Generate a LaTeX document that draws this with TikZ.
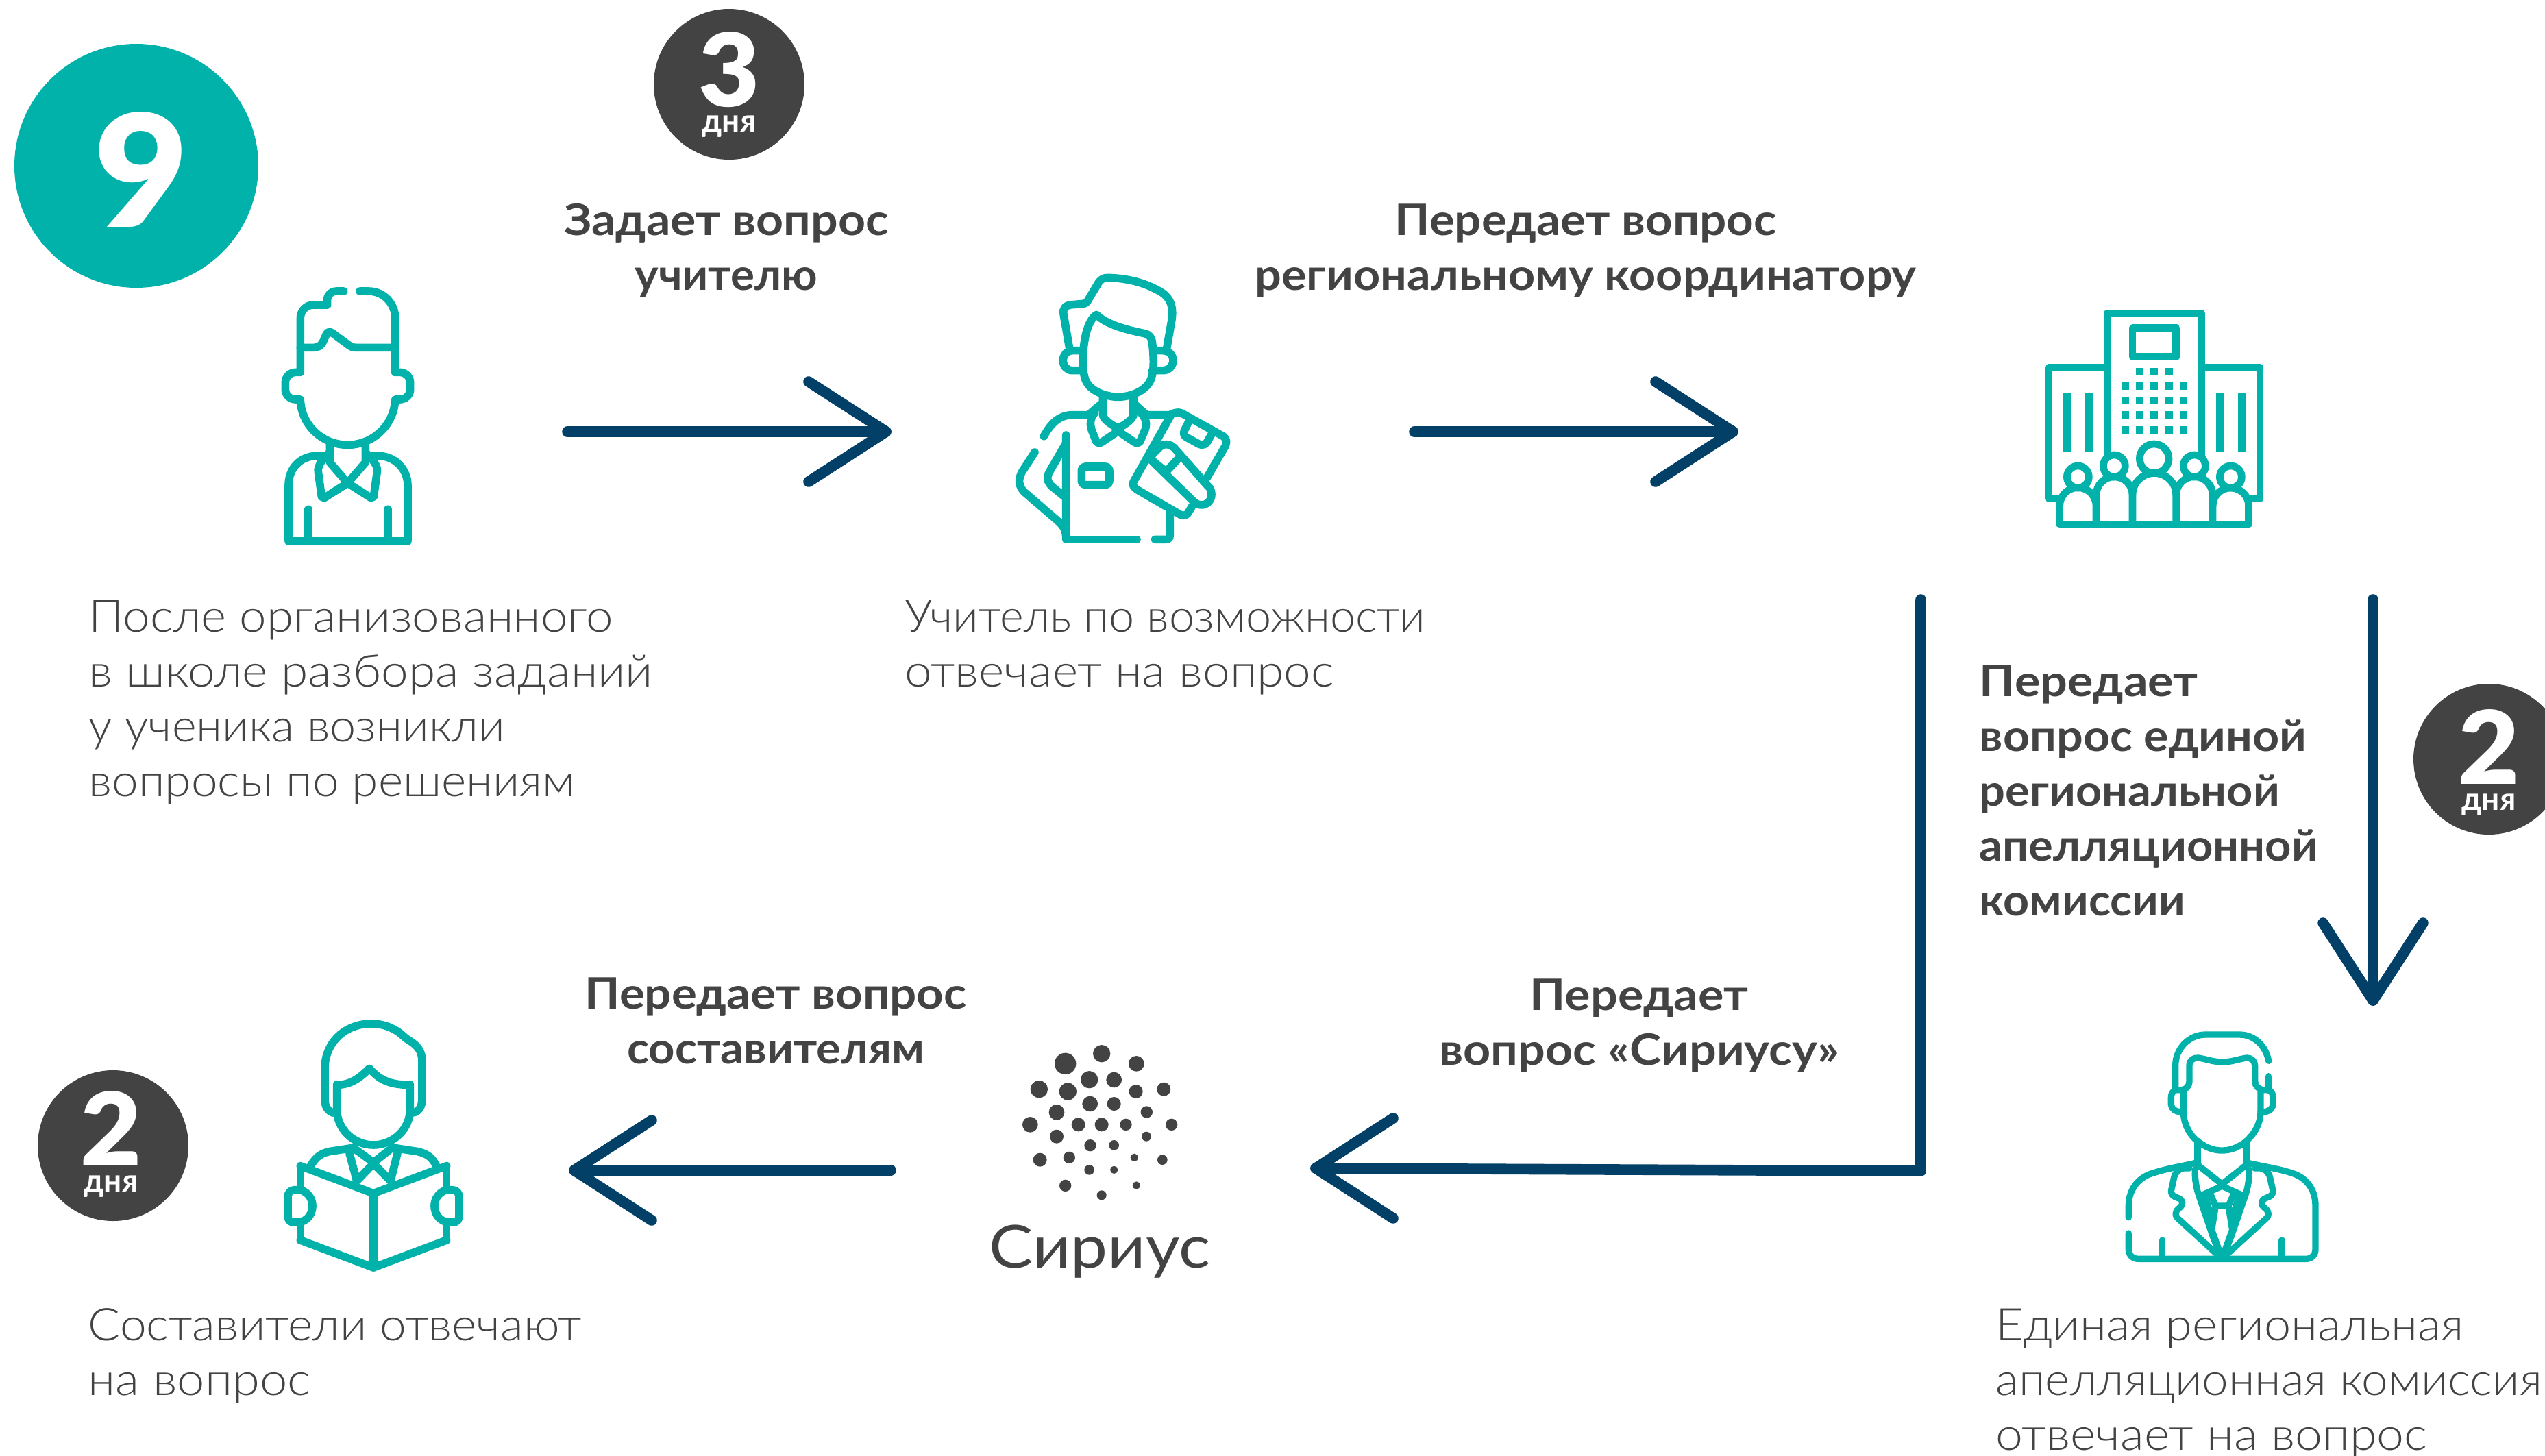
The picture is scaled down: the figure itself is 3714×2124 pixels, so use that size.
\documentclass[tikz,border=0pt]{standalone}
\usepackage{fontspec}
\setmainfont{Lato}
\newfontfamily\lightf{Lato Light}[FakeStretch=1.07]
\newfontfamily\semif{Lato}[BoldFont={Lato Bold},FakeStretch=1.08]
\newfontfamily\plainf{Lato}
\newfontfamily\heavyf{Lato Black}[FakeStretch=1.04]
\definecolor{teal9}{HTML}{00B2A9}
\definecolor{navy9}{HTML}{024068}
\definecolor{ink9}{HTML}{434343}
\newcommand{\fl}{\rule{0pt}{20pt}}
\newcommand{\sx}[2]{\scalebox{#1}[1]{#2}}
\tikzset{
  zoomed/.style={x=0.083333pt,y=-0.083333pt},
  iconline/.style={draw=teal9,line width=#1,line cap=round,line join=round,fill=none},
  iconline/.default=2.9pt,
  flow/.style={draw=navy9,line width=3.9pt,line cap=round,line join=round},
  bodytext/.style={anchor=north west,inner sep=0pt,align=left,text=ink9,font=\lightf\fontsize{16.4}{20}\selectfont},
  boldtext/.style={anchor=north,inner sep=0pt,align=center,text=ink9,font=\semif\bfseries\fontsize{15.8}{20}\selectfont},
  boldleft/.style={anchor=north west,inner sep=0pt,align=left,text=ink9,font=\semif\bfseries\fontsize{15.8}{20}\selectfont},
  badge/.style={circle,fill=ink9,minimum size=55pt,inner sep=0pt},
  digit/.style={anchor=base,inner sep=0pt,text=white,font=\heavyf\fontsize{37}{37}\selectfont},
  days/.style={anchor=base,inner sep=0pt,text=white,font=\plainf\bfseries\fontsize{11.5}{12}\selectfont},
  dot/.style={fill=ink9}
}
\begin{document}
\begin{tikzpicture}[x=0.25pt,y=-0.25pt]
\useasboundingbox (0,0) rectangle (3714,2124);
\clip (0,0) rectangle (3714,2124);
\fill[white] (0,0) rectangle (3714,2124);

% step number
\node[circle,fill=teal9,minimum size=89pt,inner sep=0pt] (stepnum) at (199,242) {};
\node[anchor=base,inner sep=0pt,text=white,font=\heavyf\fontsize{57}{57}\selectfont] (stepdigit) at (206,331) {9};

% badges
\node[badge] (badgeA) at (1064,123) {};
\node[digit] (badgeAd) at (1064,155) {3};
\node[days] (badgeAt) at (1064,192) {дня};
\node[badge] (badgeB) at (3632,1108) {};
\node[digit] (badgeBd) at (3632,1144) {2};
\node[days] (badgeBt) at (3632,1182) {дня};
\node[badge] (badgeC) at (165,1672) {};
\node[digit] (badgeCd) at (162,1701) {2};
\node[days] (badgeCt) at (162,1739) {дня};

% connectors
\coordinate (a1s) at (828,630); \coordinate (a1e) at (1293,630);
\coordinate (a2s) at (2064,630); \coordinate (a2e) at (2529,630);
\coordinate (a3s) at (3463,875); \coordinate (a3e) at (3463,1460);
\coordinate (a4s) at (2803,875); \coordinate (a4c) at (2803,1709); \coordinate (a4e) at (1920,1705);
\coordinate (a5s) at (1300,1708); \coordinate (a5e) at (838,1708);
\draw[flow] (a1s) -- (a1e);
\draw[flow] ([shift={(-113,-73)}]a1e) -- (a1e) -- ([shift={(-113,73)}]a1e);
\draw[flow] (a2s) -- (a2e);
\draw[flow] ([shift={(-113,-73)}]a2e) -- (a2e) -- ([shift={(-113,73)}]a2e);
\draw[flow] (a3s) -- (a3e);
\draw[flow] ([shift={(-73,-113)}]a3e) -- (a3e) -- ([shift={(73,-113)}]a3e);
\draw[flow] (a4s) -- (a4c) -- (a4e);
\draw[flow] ([shift={(113,-73)}]a4e) -- (a4e) -- ([shift={(113,73)}]a4e);
\draw[flow] (a5s) -- (a5e);
\draw[flow] ([shift={(113,-73)}]a5e) -- (a5e) -- ([shift={(113,73)}]a5e);

% texts
\node[bodytext] (t1) at (129,842) {\fl \sx{1.01}{После организованного}\\\sx{1.014}{в школе разбора заданий}\\\sx{.973}{у ученика возникли}\\\sx{.988}{вопросы по решениям}};
\node[bodytext] (t2) at (1320,842) {\fl \sx{.947}{Учитель по возможности}\\\sx{1.015}{отвечает на вопрос}};
\node[bodytext] (t3) at (128,1876) {\fl \sx{.99}{Составители отвечают}\\\sx{1.03}{на вопрос}};
\node[bodytext] (t4) at (2912,1876) {\fl Единая региональная\\\sx{.988}{апелляционная комиссия}\\\sx{1.02}{отвечает на вопрос}};
\node[boldtext] (l1) at (1060,263) {\fl \sx{1.023}{Задает вопрос}\\\sx{.96}{учителю}};
\node[boldtext] (l2) at (2314,263) {\fl \sx{1.012}{Передает вопрос}\\региональному координатору};
\node[boldleft] (l3) at (2888,936) {\fl \sx{1.027}{Передает}\\вопрос единой\\\sx{.977}{региональной}\\\sx{.98}{апелляционной}\\\sx{.972}{комиссии}};
\node[boldtext] (l4) at (2392,1394) {\fl \sx{1.027}{Передает}\\\sx{1.026}{вопрос «Сириусу»}};
\node[boldtext] (l5) at (1132,1392) {\fl \sx{1.012}{Передает вопрос}\\\sx{.98}{составителям}};

% student icon
\begin{scope}[shift={(380,380)},zoomed]
\draw[iconline] (365,135) -- (335,135) .. controls (310,135) and (293,150) .. (293,172) -- (293,195) -- (232,195) .. controls (200,195) and (175,222) .. (175,252) -- (175,490) -- (155,490) .. controls (130,490) and (109,510) .. (109,535) -- (109,565) .. controls (109,590) and (130,609) .. (155,609) -- (175,609) .. controls (178,720) and (270,808) .. (382,808) .. controls (494,808) and (586,720) .. (590,609) -- (610,609) .. controls (635,609) and (656,590) .. (656,565) -- (656,535) .. controls (656,510) and (635,490) .. (610,490) -- (590,490) -- (590,252) .. controls (590,190) and (540,135) .. (475,135) -- (435,135);
\draw[iconline] (175,382) -- (235,382) .. controls (255,382) and (268,370) .. (275,355) -- (288,325) .. controls (293,313) and (305,310) .. (315,318) -- (385,370) .. controls (395,378) and (405,382) .. (418,382) -- (590,382);
\draw[iconline] (304,800) -- (304,885) -- (382,975) -- (280,1040) -- (268,1035) -- (253,925) .. controls (250,905) and (265,880) .. (285,860) -- (304,840);
\draw[iconline] (460,800) -- (460,885) -- (382,975) -- (484,1040) -- (496,1035) -- (511,925) .. controls (514,905) and (499,880) .. (479,860) -- (460,840);
\draw[iconline] (285,856) -- (250,856) .. controls (170,856) and (123,915) .. (123,985) -- (123,1230) -- (645,1230) -- (645,985) .. controls (645,915) and (590,856) .. (515,856) -- (480,856);
\draw[iconline] (210,1090) -- (210,1230);
\draw[iconline] (558,1090) -- (558,1230);
\end{scope}

% teacher icon
\begin{scope}[shift={(1460,380)},zoomed]
\draw[iconline] (302,385) -- (276,235) .. controls (272,210) and (285,198) .. (305,195) -- (360,190) .. controls (370,190) and (375,188) .. (380,180) -- (425,105) .. controls (435,85) and (450,76) .. (470,76) .. controls (560,78) and (640,100) .. (705,140) .. controls (745,165) and (758,205) .. (750,260) -- (728,385);
\draw[iconline] (361,450) .. controls (361,350) and (380,265) .. (420,238) .. controls (470,285) and (560,305) .. (630,320) .. controls (655,325) and (663,340) .. (665,365) .. controls (672,430) and (672,480) .. (662,510) .. controls (648,570) and (570,598) .. (515,598) .. controls (460,598) and (380,570) .. (368,510) .. controls (362,485) and (361,470) .. (361,450);
\draw[iconline] (345,395) -- (315,395) .. controls (290,395) and (274,415) .. (274,438) .. controls (274,462) and (290,482) .. (315,482) -- (360,482);
\draw[iconline] (670,395) -- (712,395) .. controls (737,395) and (756,415) .. (756,438) .. controls (756,462) and (737,482) .. (712,482) -- (665,482);
\draw[iconline] (448,600) -- (448,675) .. controls (448,695) and (485,720) .. (515,735) .. controls (545,720) and (582,695) .. (582,675) -- (582,600);
\draw[iconline] (412,668) .. controls (390,695) and (392,720) .. (400,745) -- (420,795) .. controls (425,800) and (435,803) .. (445,795) -- (515,748) -- (585,795) .. controls (595,803) and (605,800) .. (610,795) -- (632,745) .. controls (642,720) and (640,695) .. (615,668);
\draw[iconline] (190,770) .. controls (215,725) and (250,677) .. (315,677) -- (385,677) .. controls (405,660) and (425,640) .. (448,625);
\draw[iconline] (582,625) -- (640,677) -- (740,677) .. controls (755,670) and (775,660) .. (795,670) -- (975,770) .. controls (990,780) and (992,795) .. (985,812) -- (905,950);
\draw[iconline] (150,840) -- (95,925) .. controls (75,960) and (80,990) .. (105,1015) -- (250,1140) .. controls (270,1158) and (287,1175) .. (287,1215) -- (287,765);
\draw[iconline] (287,800) -- (215,925) .. controls (200,950) and (205,970) .. (225,990) -- (287,1040);
\draw[iconline] (287,1222) -- (597,1222);
\draw[iconline] (677,1222) -- (725,1222) .. controls (742,1222) and (742,1210) .. (742,1195) -- (742,1095);
\draw[iconline,rounded corners=1.5pt] (355,903) rectangle (477,983);
\draw[iconline] (745,680) -- (582,970) .. controls (575,985) and (585,995) .. (600,1005) -- (790,1115) .. controls (800,1120) and (815,1115) .. (820,1108) -- (840,1075);
\draw[iconline] (825,705) -- (805,745) .. controls (800,760) and (805,770) .. (815,775) -- (870,805) .. controls (885,812) and (898,805) .. (905,795) -- (925,760);
\draw[iconline] (650,865) -- (845,1055) .. controls (870,1080) and (905,1075) .. (920,1045) .. controls (930,1020) and (920,995) .. (905,985) -- (760,820) .. controls (745,805) and (720,800) .. (700,815) -- (670,845) .. controls (655,860) and (660,875) .. (675,885) -- (725,925);
\draw[iconline] (775,872) -- (725,925);
\end{scope}

% regional building icon
\begin{scope}[shift={(2950,430)},zoomed]
\tikzset{iconline/.default=2.67pt}
\draw[iconline] (375,705) -- (375,82) -- (789,82) -- (789,705);
\draw[iconline] (375,320) -- (120,320) -- (120,893) -- (165,893);
\draw[iconline] (789,320) -- (1044,320) -- (1044,893) -- (998,893);
\draw[iconline] (486,145) rectangle (677,272);
\foreach \yy in {400,463,526,592} \foreach \xx in {454,517,580,646,709}
  \fill[teal9] (\xx-16.5,\yy-16.5) rectangle (\xx+16.5,\yy+16.5);
\foreach \xx in {517,580,646}
  \fill[teal9] (\xx-16.5,320.5) rectangle (\xx+16.5,353.5);
\foreach \xx in {183,279,852,948}
  \fill[teal9] (\xx,432) rectangle (\xx+33,687);
\draw[iconline] (247,798) circle[radius=48];
\draw[iconline] (406,750) circle[radius=48];
\draw[iconline] (581,718) circle[radius=64];
\draw[iconline] (757,750) circle[radius=48];
\draw[iconline] (916,798) circle[radius=48];
\draw[iconline] (167,925) -- (167,1005) -- (995,1005) -- (995,925);
\draw[iconline] (167,925) arc[start angle=180,end angle=360,radius=80] -- (327,1005);
\draw[iconline] (327,877) arc[start angle=180,end angle=360,radius=79.5] -- (486,1005);
\draw[iconline] (327,877) -- (327,1005);
\draw[iconline] (486,877) arc[start angle=180,end angle=360,radius=95.5] -- (677,1005);
\draw[iconline] (677,877) arc[start angle=180,end angle=360,radius=80] -- (837,1005);
\draw[iconline] (837,925) arc[start angle=180,end angle=360,radius=79];
\end{scope}

% commission icon
\begin{scope}[shift={(3080,1480)},zoomed]
\tikzset{iconline/.default=2.33pt}
\draw[iconline] (284,332) -- (284,225) .. controls (284,150) and (345,90) .. (415,90) -- (565,90) .. controls (630,90) and (680,140) .. (692,205);
\draw[iconline] (692,272) -- (692,332);
\draw[iconline] (284,332) -- (310,332) .. controls (330,332) and (345,315) .. (345,295) -- (345,225) .. controls (345,200) and (365,190) .. (385,192) .. controls (420,197) and (450,210) .. (490,210) .. controls (530,210) and (560,197) .. (595,192) .. controls (615,190) and (632,205) .. (632,225) -- (632,295) .. controls (632,315) and (650,332) .. (670,332) -- (692,332);
\draw[iconline] (319,335) -- (319,425) .. controls (319,480) and (345,530) .. (385,560) .. controls (420,585) and (450,597) .. (488,597) .. controls (525,597) and (555,585) .. (590,560) .. controls (630,525) and (657,480) .. (657,425) -- (657,335);
\draw[iconline] (284,332) .. controls (270,340) and (265,350) .. (265,365) -- (265,395) .. controls (265,415) and (285,428) .. (305,428) -- (319,428);
\draw[iconline] (692,332) .. controls (706,340) and (711,350) .. (711,365) -- (711,395) .. controls (711,415) and (691,428) .. (671,428) -- (657,428);
\draw[iconline] (381,555) -- (381,650);
\draw[iconline] (595,555) -- (595,650);
\draw[iconline] (381,660) -- (488,745) -- (595,660);
\draw[iconline] (395,795) -- (488,753) -- (581,795);
\draw[iconline] (370,680) .. controls (368,720) and (375,760) .. (385,790) -- (450,980) -- (488,1072);
\draw[iconline] (606,680) .. controls (608,720) and (601,760) .. (591,790) -- (526,980) -- (488,1072);
\draw[iconline] (438,790) -- (460,840) -- (516,840) -- (538,790);
\draw[iconline] (460,840) -- (443,945) -- (488,1070) -- (533,945) -- (516,840);
\draw[iconline] (415,800) -- (441,885);
\draw[iconline] (561,800) -- (535,885);
\draw[iconline] (79,890) -- (79,840) .. controls (79,760) and (130,710) .. (190,695) .. controls (250,675) and (320,665) .. (381,650);
\draw[iconline] (595,650) .. controls (650,665) and (730,675) .. (790,695) .. controls (850,712) and (897,760) .. (897,840) -- (897,1030) .. controls (897,1055) and (880,1072) .. (855,1072) -- (122,1072) .. controls (97,1072) and (79,1055) .. (79,1030) -- (79,960);
\draw[iconline] (345,675) -- (320,675) .. controls (290,680) and (280,705) .. (278,715) -- (265,775) .. controls (265,790) and (275,800) .. (295,805) .. controls (320,815) and (320,835) .. (300,850) .. controls (280,865) and (282,885) .. (295,895) -- (470,1055);
\draw[iconline] (631,675) -- (656,675) .. controls (686,680) and (696,705) .. (698,715) -- (711,775) .. controls (711,790) and (701,800) .. (681,805) .. controls (656,815) and (656,835) .. (676,850) .. controls (696,865) and (694,885) .. (681,895) -- (506,1055);
\draw[iconline] (227,990) -- (227,1072);
\draw[iconline] (750,990) -- (750,1072);
\end{scope}

% Sirius logo
\begin{scope}[shift={(1420,1500)},zoomed]
\foreach \xx/\yy/\rr in {563/113/38,404/157/47,715/157/34,509/227/38,617/228/34,289/269/38,415/279/38,713/279/30,835/269/30,512/333/34,617/333/30,366/370/34,760/369/26,250/424/34,461/424/30,563/424/30,669/424/26,869/424/26,366/476/30,759/476/21,513/515/26,617/514/22,293/578/30,421/568/26,706/568/17,829/578/22,509/622/22,617/622/17,404/691/26,715/690/17,563/733/21}
  \fill[dot] (\xx,\yy) circle[radius=\rr];
\end{scope}
\node[anchor=base,inner sep=0pt,text=ink9,font=\plainf\fontsize{21.6}{24}\selectfont] (sirius) at (1605,1850) {\sx{1.115}{Сириус}};

% book reader icon
\begin{scope}[shift={(400,1470)},zoomed]
\draw[iconline] (257,462) .. controls (225,450) and (222,420) .. (222,400) -- (222,270) .. controls (222,150) and (315,72) .. (425,72) .. controls (490,72) and (540,100) .. (570,130) .. controls (590,150) and (650,165) .. (648,240) -- (648,400) .. controls (648,440) and (630,460) .. (605,462);
\draw[iconline] (275,340) .. controls (335,340) and (375,310) .. (417,268) .. controls (460,315) and (500,340) .. (595,340);
\draw[iconline] (275,338) -- (275,450) .. controls (275,530) and (345,603) .. (435,603) .. controls (525,603) and (595,530) .. (595,450) -- (595,338);
\draw[iconline] (160,695) .. controls (185,650) and (210,640) .. (240,632) -- (350,615);
\draw[iconline] (520,615) -- (630,632) .. controls (660,640) and (690,650) .. (710,695);
\draw[iconline] (360,625) -- (435,680) -- (505,625);
\draw[iconline] (330,640) -- (362,760) -- (435,685) -- (510,760) -- (540,640);
\draw[iconline] (115,695) -- (435,815) -- (755,695);
\draw[iconline] (435,815) -- (435,1140);
\draw[iconline] (115,1020) -- (435,1140) -- (755,1020);
\draw[iconline] (115,695) -- (115,795);
\draw[iconline] (115,945) -- (115,1020);
\draw[iconline] (755,695) -- (755,795);
\draw[iconline] (755,945) -- (755,1020);
\draw[iconline] (115,800) .. controls (150,810) and (168,840) .. (168,870) .. controls (168,910) and (140,942) .. (100,942) -- (85,942) .. controls (70,942) and (60,930) .. (60,915) -- (60,830) .. controls (60,815) and (70,800) .. (90,800) -- (115,800);
\draw[iconline] (755,800) .. controls (720,810) and (702,840) .. (702,870) .. controls (702,910) and (730,942) .. (770,942) -- (785,942) .. controls (800,942) and (810,930) .. (810,915) -- (810,830) .. controls (810,815) and (800,800) .. (780,800) -- (755,800);
\end{scope}
\end{tikzpicture}
\end{document}
